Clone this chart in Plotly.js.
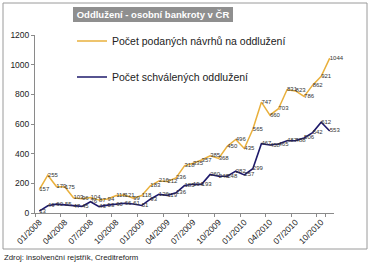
<!DOCTYPE html>
<html>
<head>
<meta charset="utf-8">
<script src="https://cdn.plot.ly/plotly-3.0.1.min.js"></script>
<style>html,body{margin:0;padding:0;background:#fff;}#chart{width:370px;height:264px;}</style>
</head>
<body>
<div id="chart"></div>
<script>
var months = ["01/2008","02/2008","03/2008","04/2008","05/2008","06/2008","07/2008","08/2008","09/2008","10/2008","11/2008","12/2008",
              "01/2009","02/2009","03/2009","04/2009","05/2009","06/2009","07/2009","08/2009","09/2009","10/2009","11/2009","12/2009",
              "01/2010","02/2010","03/2010","04/2010","05/2010","06/2010","07/2010","08/2010","09/2010","10/2010","11/2010"];
var filedValues = [157,255,179,175,103,96,104,87,94,118,121,99,118,183,216,212,236,318,335,357,385,368,450,496,435,565,747,660,703,831,823,786,862,921,1044];
var approvedValues = [13,49,60,55,47,45,76,43,53,60,66,61,51,93,126,119,136,185,194,193,260,248,248,282,257,299,467,458,465,487,488,506,542,612,553];
var tickLabels = months.filter(function(m, i){ return i % 3 === 0; });
var filedName = "Počet podaných návrhů na oddlužení";
var approvedName = "Počet schválených oddlužení";
var titleText = "Oddlužení - osobní bankroty v ČR";
var sourceText = "Zdroj: insolvenční rejstřík, Creditreform";

var FONT = "Liberation Sans, Arial, sans-serif";
var L = 35, R = 36, T = 35, B = 51, W = 370, H = 264;
var pw = W - L - R, ph = H - T - B;
function px(x){ return (x - L) / pw; }
function py(y){ return (H - B - y) / ph; }

var traces = [
  {x: months, y: filedValues, name: filedName, type: "scatter", mode: "lines+text",
   line: {color: "#E9B03C", width: 1.5}, text: filedValues.map(String), textposition: "middle right",
   textfont: {family: FONT, size: 6, color: "#333"}, cliponaxis: false, legend: "legend"},
  {x: months, y: approvedValues, name: approvedName, type: "scatter", mode: "lines+text",
   line: {color: "#1E1A6B", width: 1.6}, text: approvedValues.map(String), textposition: "middle right",
   textfont: {family: FONT, size: 6, color: "#333"}, cliponaxis: false, legend: "legend2"}
];

var layout = {
  width: W, height: H,
  margin: {l: L, r: R, t: T, b: B},
  paper_bgcolor: "#fff", plot_bgcolor: "#fff",
  font: {family: FONT, color: "#333"},
  title: {text: titleText, font: {family: FONT, size: 9.5, color: "#fff", weight: "bold"},
          x: 153 / W, xref: "container", xanchor: "center", y: 1 - 15 / H, yref: "container", yanchor: "middle"},
  xaxis: {type: "category", range: [-0.5, months.length - 0.5], tickvals: tickLabels, ticktext: tickLabels,
          tickangle: -45, tickfont: {family: FONT, size: 8.5, color: "#222"}, showline: true, linecolor: "#8a8a8a",
          linewidth: 1, ticks: "outside", ticklen: 3, tickcolor: "#8a8a8a", tickson: "boundaries", showgrid: false, zeroline: false},
  yaxis: {range: [0, 1200], dtick: 200, tickfont: {family: FONT, size: 8.5, color: "#222"}, showline: true, linecolor: "#8a8a8a",
          linewidth: 1, ticks: "outside", ticklen: 3, tickcolor: "#8a8a8a", showgrid: false, zeroline: false},
  showlegend: true,
  legend: {x: px(72), y: py(41), xanchor: "left", yanchor: "middle", bgcolor: "rgba(0,0,0,0)",
           font: {family: FONT, size: 10.5, color: "#222"}, itemwidth: 30, tracegroupgap: 0},
  legend2: {x: px(72), y: py(77), xanchor: "left", yanchor: "middle", bgcolor: "rgba(0,0,0,0)",
           font: {family: FONT, size: 10.5, color: "#222"}, itemwidth: 30, tracegroupgap: 0},
  shapes: [
    {type: "rect", xref: "paper", yref: "paper", x0: px(3), x1: px(367), y0: py(249), y1: py(3),
     line: {color: "#9a9a9a", width: 1}, fillcolor: "rgba(0,0,0,0)", layer: "below"},
    {type: "rect", xref: "paper", yref: "paper", x0: px(73), x1: px(233), y0: py(22), y1: py(7),
     line: {width: 0}, fillcolor: "#8f8f8f", layer: "below"}
  ],
  annotations: [
    {text: sourceText, xref: "paper", yref: "paper", x: px(2), y: py(257), xanchor: "left", yanchor: "middle",
     showarrow: false, font: {family: FONT, size: 7.8, color: "#222"}}
  ]
};

Plotly.newPlot("chart", traces, layout, {displayModeBar: false, staticPlot: true});
</script>
</body>
</html>
